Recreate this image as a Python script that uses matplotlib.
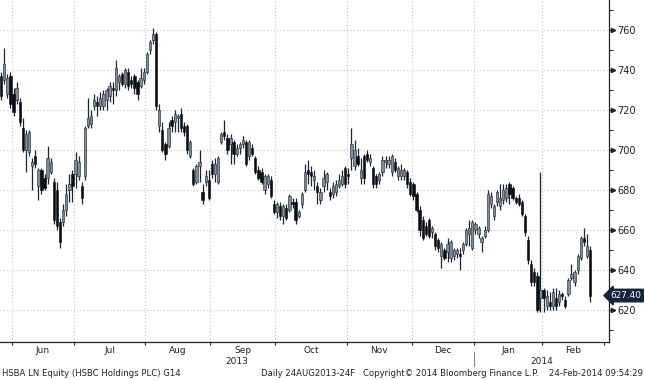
import matplotlib
matplotlib.use("Agg")
import matplotlib.pyplot as plt
import numpy as np
from matplotlib.transforms import blended_transform_factory

# ---- data (trading-day index, OHLC) ----
opens = [737,735,728,737,728,725,724,711,700,699,692,697,682,690,686,686,689,684,680,664,
         664,670,680,688,688,687,682,687,712,713,722,724,722,722,725,727,731,730,734,738,
         733,739,735,737,734,732,735,739,750,755,758,712,710,703,702,715,714,716,718,712,
         712,697,690,684,692,679,684,685,693,688,684,704,709,706,703,704,698,701,703,704,
         697,701,696,690,689,680,683,685,673,669,672,667,671,670,674,674,667,673,680,690,
         689,685,682,675,682,684,679,678,679,682,683,691,688,696,692,697,686,697,698,694,
         691,687,685,689,694,693,689,694,687,687,687,689,684,683,678,670,665,662,665,659,
         658,655,647,650,649,646,647,648,648,650,653,658,651,660,658,654,657,660,673,667,
         674,672,675,676,683,681,676,676,674,667,655,643,639,637,626,630,622,624,622,626,
         624,628,625,628,636,634,640,646,656,647,650]
highs = [739,751,738,739,731,734,726,716,710,710,696,700,691,691,688,702,696,686,684,666,
         673,683,688,690,699,697,684,712,726,720,728,727,729,730,731,734,734,745,738,739,
         741,741,737,738,735,741,741,749,755,761,759,723,714,704,714,717,720,718,721,714,
         713,705,691,693,700,683,690,690,695,696,697,709,715,708,708,705,703,704,707,705,
         705,703,697,692,691,688,688,687,675,674,674,673,673,678,676,676,670,679,693,695,
         692,690,684,681,690,689,681,684,685,688,690,692,691,711,705,701,696,698,700,698,
         692,688,689,697,697,697,698,696,692,693,691,690,686,684,679,672,667,664,666,662,
         659,656,654,651,656,655,651,651,651,654,661,665,665,664,662,657,662,680,679,673,
         680,683,683,683,684,682,677,678,675,668,657,645,641,639,689,631,630,629,631,631,
         630,629,627,636,643,640,648,657,661,658,652]
lows  = [725,733,726,721,717,723,712,699,689,697,680,691,675,678,680,683,688,663,660,651,
         662,667,674,674,681,685,673,685,711,711,720,717,720,720,720,724,723,727,730,732,
         731,730,731,728,725,731,733,738,748,753,720,709,699,695,701,709,709,709,709,707,
         698,696,682,683,684,673,682,675,686,684,683,703,705,698,693,693,697,698,701,692,
         695,697,688,685,683,678,681,676,668,666,665,663,665,669,671,663,666,671,679,683,
         682,680,673,673,679,680,675,676,677,681,682,681,683,690,690,692,683,683,694,692,
         681,681,683,687,691,691,687,689,685,685,685,681,677,675,669,657,655,657,656,656,
         650,649,641,645,644,644,645,646,640,648,652,652,650,658,656,649,656,659,671,665,
         672,670,673,674,673,675,673,672,667,657,643,632,632,619,619,619,620,620,620,620,
         622,625,621,627,635,632,638,645,652,646,624]
closes = [727,743,736,723,719,731,714,700,708,709,694,693,690,680,681,696,694,665,662,654,
          670,678,683,682,695,694,676,711,716,717,725,722,726,728,730,732,730,741,737,733,
          740,732,733,731,728,736,739,748,754,758,722,720,700,698,711,712,718,717,711,709,
          700,704,683,692,694,675,687,676,688,693,696,708,707,700,706,698,701,703,705,693,
          704,698,689,686,684,687,687,677,669,673,667,672,666,677,673,665,669,678,689,688,
          687,687,679,679,686,688,677,682,683,685,687,683,687,703,700,693,690,686,695,696,
          683,683,688,695,695,695,697,690,691,690,690,683,678,677,670,660,656,658,657,661,
          652,651,653,646,653,654,650,650,647,653,660,661,664,663,661,656,660,678,677,672,
          679,676,680,681,678,676,674,673,668,659,645,634,634,620,630,626,627,622,629,622,
          628,627,622,635,638,639,647,656,654,652,627.4]

months = ["Jun", "Jul", "Aug", "Sep", "Oct", "Nov", "Dec", "Jan", "Feb"]
month_start = [4, 24, 47, 68, 89, 112, 133, 153, 175, 195]
y_ticks = [620, 640, 660, 680, 700, 720, 740, 760]
last_label = "627.40"

opens = np.array(opens, float); highs = np.array(highs, float)
lows = np.array(lows, float); closes = np.array(closes, float)
idx = np.arange(len(closes))

fig = plt.figure(figsize=(6.45, 3.8), dpi=100)
ax = fig.add_axes([0.0, 0.1, 609/645, 0.9])

UP_FACE = "#7f8b99"
DOWN_FACE = "#0b0d14"
EDGE = "#1e2530"

up = closes >= opens
ax.vlines(idx, lows, highs, color=EDGE, linewidth=0.9, zorder=2)
bottoms = np.minimum(opens, closes)
heights = np.maximum(np.abs(closes - opens), 0.6)
ax.bar(idx[up], heights[up], bottom=bottoms[up], width=0.75,
       color=UP_FACE, edgecolor=EDGE, linewidth=0.4, zorder=3)
ax.bar(idx[~up], heights[~up], bottom=bottoms[~up], width=0.75,
       color=DOWN_FACE, edgecolor=DOWN_FACE, linewidth=0.4, zorder=3)

ax.set_xlim(-0.37, 196.1)
ax.set_ylim(604.2, 775)

# grid
bounds = [s - 0.5 for s in month_start]
for b in bounds[:-1]:
    ax.axvline(b, color="#c6c6c6", linestyle=(0, (1, 2)), linewidth=0.8, zorder=1)
for yv in y_ticks:
    ax.axhline(yv, color="#c6c6c6", linestyle=(0, (1, 2)), linewidth=0.8, zorder=1)

# spines
for s in ["left", "top"]:
    ax.spines[s].set_visible(False)
ax.spines["right"].set_color("#222222")
ax.spines["bottom"].set_color("#222222")
ax.spines["right"].set_linewidth(0.9)
ax.spines["bottom"].set_linewidth(0.9)

# y axis on right
ax.yaxis.tick_right()
ax.set_yticks(y_ticks)
ax.set_yticklabels([str(v) for v in y_ticks])
ax.set_yticks(np.arange(610, 775, 10), minor=True)
ax.tick_params(axis="y", which="major", length=4, width=1.0, pad=2,
               labelsize=7, colors="#222222")
ax.tick_params(axis="y", which="minor", length=3, width=0.7, colors="#222222")
trans_y = blended_transform_factory(ax.transAxes, ax.transData)
ax.plot([1.006] * len(y_ticks), y_ticks, marker=">", markersize=3, linestyle="none",
        color="#222222", transform=trans_y, clip_on=False)

# x axis
ax.set_xticks(bounds)
ax.set_xticklabels([""] * len(bounds))
ax.tick_params(axis="x", which="major", length=2.5, width=0.8, colors="#222222")
trans_x = blended_transform_factory(ax.transData, ax.transAxes)
for m, a, b in zip(months, bounds[:-1], bounds[1:]):
    ax.text((a + b) / 2, -0.024, m, transform=trans_x, ha="center", va="center",
            fontsize=6.5, color="#222222")
ax.text(76, -0.058, "2013", transform=trans_x, ha="center", va="center",
        fontsize=6.5, color="#222222")
ax.text(174.4, -0.058, "2014", transform=trans_x, ha="center", va="center",
        fontsize=6.5, color="#222222")
ax.plot([bounds[7], bounds[7]], [-0.03, -0.07], transform=trans_x, color="#888888",
        linewidth=0.8, clip_on=False)

# last price label
ax.annotate(last_label, xy=(1.0, closes[-1]), xycoords=trans_y,
            xytext=(1.028, closes[-1]), textcoords=trans_y,
            ha="center", va="center", fontsize=6.4, color="white",
            bbox=dict(boxstyle="larrow,pad=0.2", fc="#14243a", ec="#14243a"))

# footer
fy = 1 - 373/380
fig.text(2/645, fy, "HSBA LN Equity (HSBC Holdings PLC) G14", fontsize=6.1,
         ha="left", va="center", color="#222222")
fig.text(261/645, fy, "Daily 24AUG2013-24F", fontsize=6.1,
         ha="left", va="center", color="#222222")
fig.text(363/645, fy, "Copyright\u00a9 2014 Bloomberg Finance L.P.", fontsize=6.1,
         ha="left", va="center", color="#222222")
fig.text(643/645, fy, "24-Feb-2014 09:54:29", fontsize=6.1,
         ha="right", va="center", color="#222222")

fig.savefig("out.png", dpi=100)
